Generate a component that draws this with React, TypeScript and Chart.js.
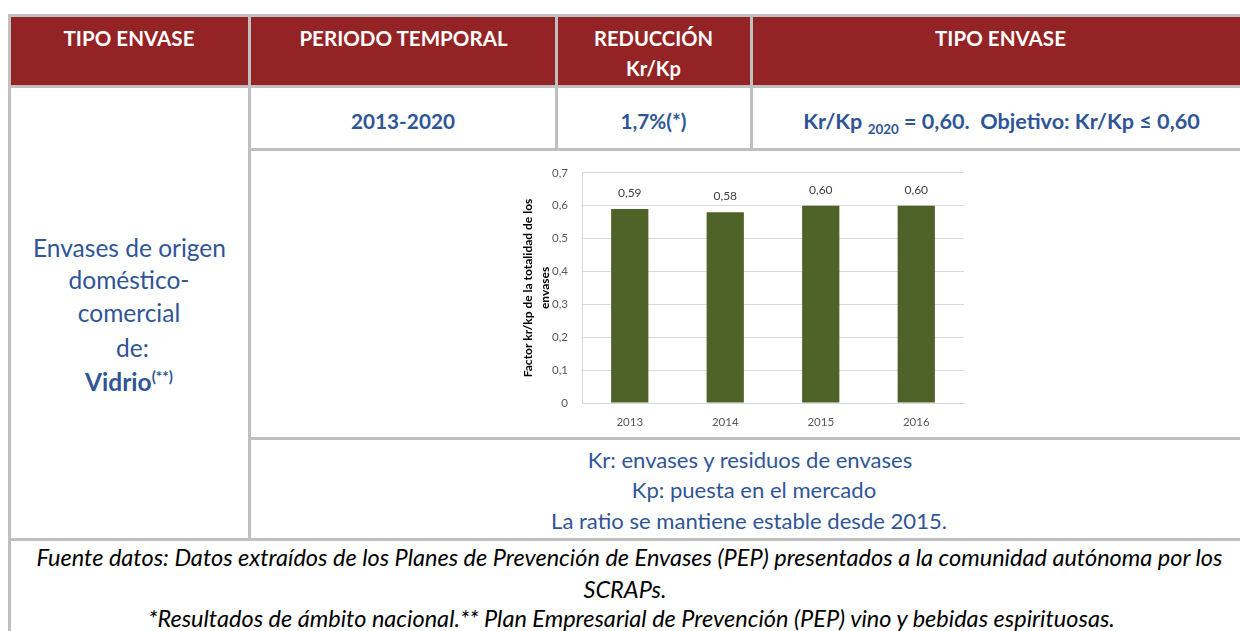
import React, { useEffect, useRef } from 'react';
import { Chart, registerables } from 'chart.js';

Chart.register(...registerables);

// ---- chart data ----
const years: string[] = ['2013', '2014', '2015', '2016'];
const krkpValues: number[] = [0.59, 0.58, 0.6, 0.6];
const valueLabels: string[] = ['0,59', '0,58', '0,60', '0,60'];
const yAxisMin = 0;
const yAxisMax = 0.7;
const yAxisStep = 0.1;
const yAxisTitle: string[] = ['Factor kr/kp de la totalidad de los', 'envases'];

const FONT = 'Lato, "Open Sans", sans-serif';
const BLUE = '#2F5597';
const RED = '#942325';
const LINE = '#BFBFBF';

let measureCtx: CanvasRenderingContext2D | null = null;
function measure(text: string, weight: string, italic: boolean): number {
  if (!measureCtx) measureCtx = document.createElement('canvas').getContext('2d');
  const ctx = measureCtx as CanvasRenderingContext2D;
  ctx.font = `${italic ? 'italic ' : ''}${weight} 100px Lato`;
  return ctx.measureText(text).width;
}

type Seg = { t: string; small?: 'sub' | 'sup' };
const SMALL = 0.62;

function segWidth(segs: Seg[], weight: string, italic: boolean): number {
  let w = 0;
  for (const s of segs) w += measure(s.t, weight, italic) * (s.small ? SMALL : 1);
  return w;
}
function fitSize(segs: Seg[], target: number, weight: string, italic = false): number {
  return (100 * target) / segWidth(segs, weight, italic);
}

function TextLine(props: {
  segs: Seg[];
  cx: number;
  cy: number;
  size: number;
  weight: string;
  italic?: boolean;
  color: string;
}) {
  const { segs, cx, cy, size, weight, italic, color } = props;
  const lh = size * 1.2;
  return (
    <div
      style={{
        position: 'absolute',
        left: cx - 700,
        width: 1400,
        top: cy - lh / 2,
        height: lh,
        lineHeight: `${lh}px`,
        fontSize: size,
        fontFamily: FONT,
        fontWeight: weight as any,
        fontStyle: italic ? 'italic' : 'normal',
        color,
        textAlign: 'center',
        whiteSpace: 'pre',
      }}
    >
      {segs.map((s, i) =>
        s.small ? (
          <span
            key={i}
            style={{
              fontSize: `${SMALL}em`,
              position: 'relative',
              top: s.small === 'sub' ? size * 0.22 : -size * 0.38,
            }}
          >
            {s.t}
          </span>
        ) : (
          <span key={i}>{s.t}</span>
        )
      )}
    </div>
  );
}

const valueLabelPlugin = {
  id: 'valueLabelPlugin',
  afterDatasetsDraw(chart: any) {
    const ctx = chart.ctx as CanvasRenderingContext2D;
    const meta = chart.getDatasetMeta(0);
    ctx.save();
    ctx.font = `12px ${FONT}`;
    ctx.fillStyle = '#404040';
    ctx.textAlign = 'center';
    ctx.textBaseline = 'middle';
    meta.data.forEach((bar: any, i: number) => {
      ctx.fillText(valueLabels[i], bar.x, bar.y - 16);
    });
    ctx.restore();
  },
};

function BarChart() {
  const ref = useRef<HTMLCanvasElement | null>(null);
  useEffect(() => {
    if (!ref.current) return;
    const chart = new Chart(ref.current, {
      type: 'bar',
      data: {
        labels: years,
        datasets: [
          {
            data: krkpValues,
            backgroundColor: '#4F6228',
            borderWidth: 0,
            barPercentage: 0.39,
            categoryPercentage: 1,
          },
        ],
      },
      options: {
        responsive: false,
        animation: false,
        events: [],
        layout: { padding: { top: 12, right: 11, left: 0, bottom: 0 } },
        plugins: { legend: { display: false }, tooltip: { enabled: false }, title: { display: false } },
        scales: {
          x: {
            grid: { display: false, drawTicks: false },
            border: { display: true, color: '#D9D9D9', width: 1 },
            ticks: { color: '#595959', font: { family: FONT, size: 11.5 }, padding: 12 },
            afterFit: (s: any) => {
              s.height = 33;
            },
          },
          y: {
            min: yAxisMin,
            max: yAxisMax,
            ticks: {
              stepSize: yAxisStep,
              color: '#595959',
              font: { family: FONT, size: 11.5 },
              padding: 14,
              callback: (v: any) => {
                const n = Number(v);
                return n === 0 ? '0' : n.toFixed(1).replace('.', ',');
              },
            },
            grid: { color: '#D9D9D9', drawTicks: false },
            border: { display: true, color: '#D9D9D9', width: 1 },
            title: {
              display: true,
              text: yAxisTitle,
              color: '#000000',
              font: { family: FONT, size: 12, weight: 'bold', lineHeight: 1.4 },
              padding: { top: 15, bottom: 0 },
            },
            afterFit: (s: any) => {
              s.width = 77;
            },
          },
        },
      },
      plugins: [valueLabelPlugin],
    } as any);
    return () => chart.destroy();
  }, []);
  return (
    <canvas
      ref={ref}
      width={470}
      height={284}
      style={{ position: 'absolute', left: 505, top: 152, width: 470, height: 284 }}
    />
  );
}

function HLine(p: { x1: number; x2: number; y: number }) {
  return (
    <div style={{ position: 'absolute', left: p.x1, top: p.y, width: p.x2 - p.x1, height: 3, background: LINE }} />
  );
}
function VLine(p: { x: number; y1: number; y2: number }) {
  return (
    <div style={{ position: 'absolute', left: p.x, top: p.y1, width: 3, height: p.y2 - p.y1, background: LINE }} />
  );
}

export default function App() {
  const hdr = (t: string, w: number) => fitSize([{ t }], w, '700');
  const row2Kr: Seg[] = [
    { t: 'Kr/Kp ' },
    { t: '2020', small: 'sub' },
    { t: ' = 0,60.  Objetivo: Kr/Kp \u2264 0,60' },
  ];
  const row2Size = fitSize([{ t: '2013-2020' }], 104, '700');
  const leftSize = fitSize([{ t: 'Envases de origen' }], 193, '400');
  const midSize = fitSize([{ t: 'Kr: envases y residuos de envases' }], 326, '400');
  const footLine1 =
    'Fuente datos: Datos extraídos de los Planes de Prevención de Envases (PEP) presentados a la comunidad autónoma por los';
  const footSize = fitSize([{ t: footLine1 }], 1187, '400', true);

  return (
    <div
      style={{
        position: 'fixed',
        left: 0,
        top: 0,
        width: 1240,
        height: 631,
        overflow: 'hidden',
        background: '#ffffff',
      }}
    >
      {/* header background */}
      <div style={{ position: 'absolute', left: 11, top: 17, width: 1240, height: 68, background: RED }} />

      {/* borders */}
      <HLine x1={8} x2={1240} y={14} />
      <HLine x1={8} x2={1240} y={85} />
      <HLine x1={248} x2={1240} y={148} />
      <HLine x1={248} x2={1240} y={437} />
      <HLine x1={8} x2={1240} y={538} />
      <VLine x={8} y1={14} y2={631} />
      <VLine x={248} y1={14} y2={541} />
      <VLine x={555} y1={14} y2={151} />
      <VLine x={750} y1={14} y2={151} />

      {/* header texts */}
      <TextLine segs={[{ t: 'TIPO ENVASE' }]} cx={129} cy={38} size={hdr('TIPO ENVASE', 131)} weight="700" color="#fff" />
      <TextLine
        segs={[{ t: 'PERIODO TEMPORAL' }]}
        cx={403.5}
        cy={38}
        size={hdr('PERIODO TEMPORAL', 209)}
        weight="700"
        color="#fff"
      />
      <TextLine segs={[{ t: 'REDUCCIÓN' }]} cx={653.5} cy={38} size={hdr('REDUCCIÓN', 119)} weight="700" color="#fff" />
      <TextLine segs={[{ t: 'Kr/Kp' }]} cx={653.5} cy={68} size={hdr('REDUCCIÓN', 119)} weight="700" color="#fff" />
      <TextLine segs={[{ t: 'TIPO ENVASE' }]} cx={1000.5} cy={38} size={hdr('TIPO ENVASE', 131)} weight="700" color="#fff" />

      {/* row 2 */}
      <TextLine segs={[{ t: '2013-2020' }]} cx={403} cy={121} size={row2Size} weight="700" color={BLUE} />
      <TextLine segs={[{ t: '1,7%(*)' }]} cx={653.5} cy={121} size={row2Size} weight="700" color={BLUE} />
      <TextLine segs={row2Kr} cx={1001.5} cy={121} size={fitSize(row2Kr, 397, '700')} weight="700" color={BLUE} />

      {/* left merged cell */}
      <TextLine segs={[{ t: 'Envases de origen' }]} cx={129.5} cy={248} size={leftSize} weight="400" color={BLUE} />
      <TextLine segs={[{ t: 'doméstico-' }]} cx={129} cy={280} size={leftSize} weight="400" color={BLUE} />
      <TextLine segs={[{ t: 'comercial' }]} cx={129} cy={313} size={leftSize} weight="400" color={BLUE} />
      <TextLine segs={[{ t: 'de:' }]} cx={132.5} cy={348} size={leftSize} weight="400" color={BLUE} />
      <TextLine
        segs={[{ t: 'Vidrio' }, { t: '(**)', small: 'sup' }]}
        cx={129}
        cy={382}
        size={leftSize}
        weight="700"
        color={BLUE}
      />

      {/* chart */}
      <BarChart />

      {/* explanation row */}
      <TextLine segs={[{ t: 'Kr: envases y residuos de envases' }]} cx={750} cy={460} size={midSize} weight="400" color={BLUE} />
      <TextLine segs={[{ t: 'Kp: puesta en el mercado' }]} cx={754} cy={490} size={midSize} weight="400" color={BLUE} />
      <TextLine
        segs={[{ t: 'La ratio se mantiene estable desde 2015.' }]}
        cx={749}
        cy={521}
        size={midSize}
        weight="400"
        color={BLUE}
      />

      {/* footer */}
      <TextLine segs={[{ t: footLine1 }]} cx={629.5} cy={557} size={footSize} weight="400" italic color="#000" />
      <TextLine segs={[{ t: 'SCRAPs.' }]} cx={625} cy={589} size={footSize} weight="400" italic color="#000" />
      <TextLine
        segs={[
          {
            t: '*Resultados de ámbito nacional.** Plan Empresarial de Prevención (PEP) vino y bebidas espirituosas.',
          },
        ]}
        cx={631.5}
        cy={618}
        size={footSize}
        weight="400"
        italic
        color="#000"
      />
    </div>
  );
}
